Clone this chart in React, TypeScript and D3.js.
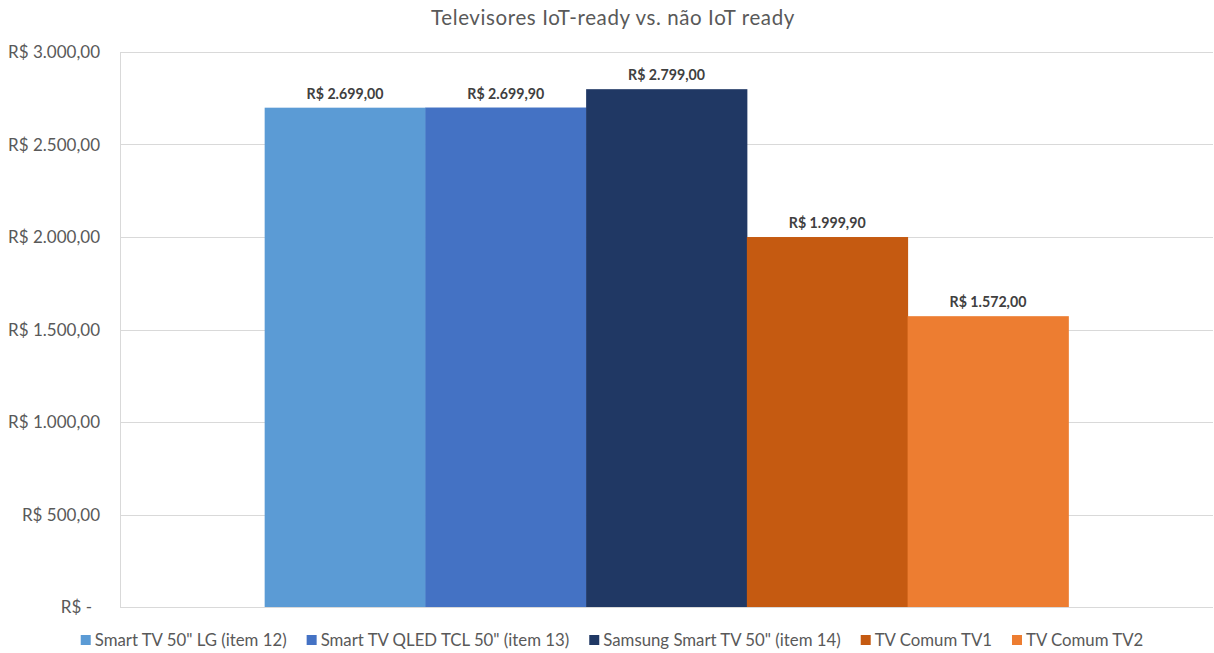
import React, { useEffect, useRef } from "react";
import * as d3 from "d3";

const W = 1214;
const H = 653;

const title = "Televisores IoT-ready vs. não IoT ready";
const categories = [""];
const seriesNames = [
  'Smart TV 50" LG (item 12)',
  'Smart TV QLED TCL 50" (item 13)',
  'Samsung Smart TV 50" (item 14)',
  "TV Comum TV1",
  "TV Comum TV2",
];
const seriesValues = [2699.0, 2699.9, 2799.0, 1999.9, 1572.0];
const seriesColors = ["#5B9BD5", "#4472C4", "#203864", "#C55A11", "#ED7D31"];
const yTicks = [0, 500, 1000, 1500, 2000, 2500, 3000];

const fmt = (v: number) => {
  if (v === 0) return "R$ -";
  const parts = v.toFixed(2).split(".");
  const intPart = parts[0].replace(/\B(?=(\d{3})+(?!\d))/g, ".");
  return `R$ ${intPart},${parts[1]}`;
};

export default function App() {
  const ref = useRef<SVGSVGElement | null>(null);

  useEffect(() => {
    const svg = d3.select(ref.current);
    svg.selectAll("*").remove();
    const font = "Lato, 'Open Sans', sans-serif";
    const gray = "#595959";

    const left = 120, right = 1213, top = 52, bottom = 607;

    const y = d3.scaleLinear().domain([0, 3000]).range([bottom, top]);
    const x0 = d3
      .scaleBand<string>()
      .domain(categories)
      .range([left, right])
      .paddingInner(0)
      .paddingOuter(0.18);
    const x1 = d3
      .scaleBand<string>()
      .domain(seriesNames)
      .range([0, x0.bandwidth()])
      .padding(0);

    // gridlines
    svg
      .append("g")
      .selectAll("line")
      .data(yTicks)
      .join("line")
      .attr("x1", left)
      .attr("x2", right)
      .attr("y1", (d) => Math.round(y(d)) + 0.5)
      .attr("y2", (d) => Math.round(y(d)) + 0.5)
      .attr("stroke", "#d9d9d9")
      .attr("stroke-width", 1);

    svg
      .append("line")
      .attr("x1", left + 0.5)
      .attr("x2", left + 0.5)
      .attr("y1", top)
      .attr("y2", bottom)
      .attr("stroke", "#d9d9d9");

    // y labels
    svg
      .append("g")
      .selectAll("text")
      .data(yTicks)
      .join("text")
      .attr("x", (d) => (d === 0 ? 92 : 100))
      .attr("y", (d) => y(d) + 6)
      .attr("text-anchor", "end")
      .attr("font-family", font)
      .attr("font-size", 17)
      .attr("fill", gray)
      .text((d) => fmt(d));

    // bars
    const g = svg.append("g").attr("transform", `translate(${x0("")},0)`);
    g.selectAll("rect")
      .data(seriesValues)
      .join("rect")
      .attr("x", (_, i) => x1(seriesNames[i])!)
      .attr("width", x1.bandwidth() + 0.5)
      .attr("y", (d) => y(d))
      .attr("height", (d) => bottom - y(d))
      .attr("fill", (_, i) => seriesColors[i]);

    g.selectAll("text")
      .data(seriesValues)
      .join("text")
      .attr("x", (_, i) => x1(seriesNames[i])! + x1.bandwidth() / 2)
      .attr("y", (d) => y(d) - 9)
      .attr("text-anchor", "middle")
      .attr("font-family", font)
      .attr("font-size", 14.2)
      .attr("font-weight", "bold")
      .attr("fill", "#404040")
      .text((d) => fmt(d));

    // title
    svg
      .append("text")
      .attr("x", 613)
      .attr("y", 25)
      .attr("text-anchor", "middle")
      .attr("font-family", font)
      .attr("font-size", 20.5)
      .attr("letter-spacing", 0.6)
      .attr("fill", gray)
      .text(title);

    // legend
    const lg = svg.append("g");
    const items = lg
      .selectAll("g")
      .data(seriesNames)
      .join("g");
    items
      .append("rect")
      .attr("width", 10)
      .attr("height", 10)
      .attr("y", -11)
      .attr("fill", (_, i) => seriesColors[i]);
    items
      .append("text")
      .attr("x", 14)
      .attr("font-family", font)
      .attr("font-size", 16.8)
      .attr("fill", gray)
      .text((d) => d);
    const widths: number[] = [];
    items.each(function () {
      const t = d3.select(this).select("text").node() as SVGTextElement;
      widths.push(14 + t.getComputedTextLength());
    });
    const gap = 20;
    const total = widths.reduce((a, b) => a + b, 0) + gap * (widths.length - 1);
    let cx = 612 - total / 2;
    items.attr("transform", (_, i) => {
      const tx = cx;
      cx += widths[i] + gap;
      return `translate(${tx},646)`;
    });
  }, []);

  return (
    <svg
      ref={ref}
      width={W}
      height={H}
      style={{ position: "absolute", left: 0, top: 0, background: "#fff" }}
    />
  );
}
